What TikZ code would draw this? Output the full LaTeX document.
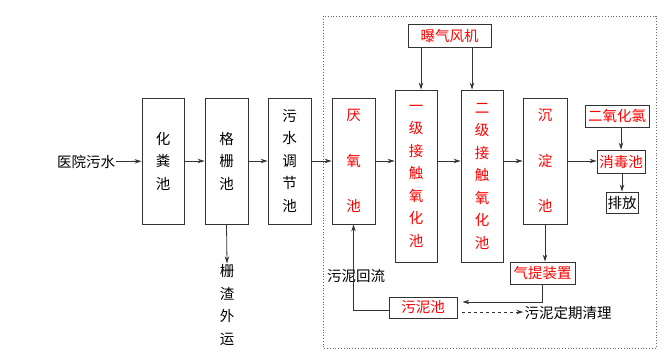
\documentclass[tikz,border=0pt]{standalone}
\usepackage{fontspec}
\setmainfont{Noto Sans CJK SC}
\usetikzlibrary{arrows.meta}
\begin{document}
\begin{tikzpicture}[x=1pt,y=-1pt,
	pool/.style={draw=black!80, line width=0.9pt, align=center, inner sep=0pt, font=\fontsize{14.5}{22.5}\selectfont},
	tag/.style={draw=black!80, line width=0.9pt, inner sep=1pt, font=\fontsize{14.5}{16}\selectfont},
	txt/.style={align=center, inner sep=1pt, font=\fontsize{14.5}{22.5}\selectfont},
	arr/.style={draw=black!80, line width=0.8pt, -{Stealth[length=7pt,width=4.5pt]}}]
	\useasboundingbox (0,0) rectangle (668,358);
	\draw[black!60, dotted, line width=0.8pt] (323,16) rectangle (656,348);
	
	% Vorbehandlung
	\node[txt] (in) at (86,162) {医院污水};
	\node[pool, minimum width=42, minimum height=126] (hf) at (163,161) {化\\粪\\池};
	\node[pool, minimum width=43, minimum height=126] (gs) at (226.5,161) {格\\栅\\池};
	\node[pool, minimum width=43, minimum height=126] (tj) at (289.5,161) {污\\水\\调\\节\\池};
	\node[txt] (zy) at (227,305) {栅\\渣\\外\\运};
	
	% Biologische Stufe
	\node[pool, red, draw=black!80, minimum width=43, minimum height=126, font=\fontsize{14.5}{45.5}\selectfont] (yy) at (353.5,161) {厌\\氧\\池};
	\node[pool, red, draw=black!80, minimum width=42, minimum height=172] (j1) at (416,176) {一\\级\\接\\触\\氧\\化\\池};
	\node[pool, red, draw=black!80, minimum width=42, minimum height=172] (j2) at (482,176) {二\\级\\接\\触\\氧\\化\\池};
	\node[pool, red, draw=black!80, minimum width=44, minimum height=126, font=\fontsize{14.5}{45.5}\selectfont] (cd) at (545,161) {沉\\淀\\池};
	\node[tag, red, draw=black!80, minimum width=83, minimum height=23] (bg) at (449.5,35.5) {曝气风机};
	\node[tag, red, draw=black!80, minimum width=64, minimum height=22] (clo) at (617,116) {二氧化氯};
	\node[tag, red, draw=black!80, minimum width=48, minimum height=23] (xd) at (621,161.5) {消毒池};
	\node[tag, minimum width=32, minimum height=21] (pf) at (622,202.5) {排放};
	\node[tag, red, draw=black!80, minimum width=65, minimum height=22] (qt) at (542.5,273) {气提装置};
	\node[tag, red, draw=black!80, minimum width=68, minimum height=21] (wn) at (423,307.5) {污泥池};
	\node[txt] (hl) at (356,276) {污泥回流};
	\node[txt] (ql) at (568,313) {污泥定期清理};
	
	% Hauptstrom
	\draw[arr] (in) -- (hf);
	\draw[arr] (hf) -- (gs);
	\draw[arr] (gs) -- (tj);
	\draw[arr] (tj) -- (yy);
	\draw[arr] (yy.east) -- (yy.east -| j1.west);
	\draw[arr] (yy.east -| j1.east) -- (yy.east -| j2.west);
	\draw[arr] (yy.east -| j2.east) -- (cd.west);
	\draw[arr] (cd.east) -- (cd.east -| xd.west);
	\draw[arr] (gs.south) -- (zy.north);
	
	% Luft, Desinfektion, Schlamm
	\draw[arr] ([xshift=5pt]j1.north |- bg.south) -- ([xshift=5pt]j1.north);
	\draw[arr] ([xshift=-10pt]j2.north |- bg.south) -- ([xshift=-10pt]j2.north);
	\draw[arr] (xd.north |- clo.south) -- (xd.north);
	\draw[arr] (xd.south -| pf.north) -- (pf.north);
	\draw[arr] (cd.south) -- (cd.south |- qt.north);
	\draw[arr] (qt.south) |- ([xshift=5pt,yshift=5.5pt]wn.east);
	\draw[arr, dashed] ([xshift=5pt,yshift=-4.5pt]wn.east) -- ([yshift=-4.5pt]wn.east -| ql.west);
	\draw[arr] ([yshift=-2.5pt]wn.west) -| (yy.south);
\end{tikzpicture}
\end{document}
